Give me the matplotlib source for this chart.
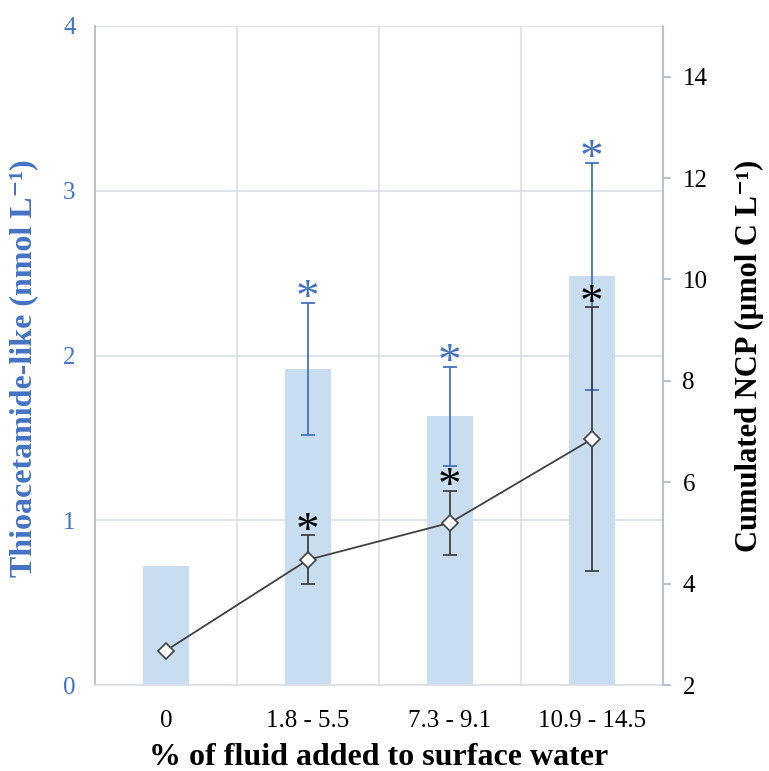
import matplotlib
matplotlib.use("Agg")
import matplotlib.pyplot as plt
import numpy as np

categories = ["0", "1.8 - 5.5", "7.3 - 9.1", "10.9 - 14.5"]
thio_values = [0.72, 1.92, 1.63, 2.48]
thio_err = [0.0, 0.40, 0.30, 0.69]
thio_signif = [False, True, True, True]
ncp_values = [2.68, 4.47, 5.20, 6.85]
ncp_err = [0.0, 0.48, 0.63, 2.60]
ncp_signif = [False, True, True, True]

BLUE = "#4472C4"
BAR = "#C9DDF1"
GRID = "#D9DEE7"
SPINE = "#A9B8CC"
DARK = "#404040"

plt.rcParams["font.family"] = ["Liberation Serif", "DejaVu Serif"]

fig = plt.figure(figsize=(7.69, 7.71), dpi=100)
ax = fig.add_axes([95/769, 1 - 685/771, (663-95)/769, (685-26)/771])
x = np.arange(len(categories))

ax.bar(x, thio_values, width=0.33, color=BAR, zorder=2)
for xi, v, e in zip(x, thio_values, thio_err):
    if e > 0:
        ax.errorbar(xi, v, yerr=e, fmt="none", ecolor=BLUE, elinewidth=1.3,
                    capsize=5, capthick=1.3, zorder=3)
for xi, v, e, s in zip(x, thio_values, thio_err, thio_signif):
    if s:
        ax.annotate("*", xy=(xi, v + e), xytext=(0, -6), textcoords="offset points",
                    ha="center", va="baseline", fontsize=34, color=BLUE, zorder=4)

ax.set_xlim(-0.5, 3.5)
ax.set_ylim(0, 4)
ax.set_yticks([0, 1, 2, 3, 4])
ax.set_xticks(x)
ax.set_xticklabels(categories, fontsize=18)
ax.set_xticks([0.5, 1.5, 2.5], minor=True)
ax.grid(True, axis="y", which="major", color=GRID, linewidth=1.2, zorder=0)
ax.grid(True, axis="x", which="minor", color=GRID, linewidth=1.2, zorder=0)
ax.tick_params(axis="x", which="both", length=0, pad=18)
ax.tick_params(axis="y", length=0, labelcolor=BLUE, labelsize=18, pad=14)
ax.set_axisbelow(True)
for sp in ["top", "right"]:
    ax.spines[sp].set_visible(False)
ax.spines["left"].set_color(SPINE)
ax.spines["bottom"].set_color(GRID)
ax.spines["left"].set_linewidth(1.2)
ax.spines["bottom"].set_linewidth(1.2)

ax.set_xlabel("% of fluid added to surface water", fontsize=23, fontweight="bold", labelpad=8)
ax.set_ylabel("Thioacetamide-like (nmol L\u207b\u00b9)", fontsize=23, fontweight="bold",
              color=BLUE)
ax.yaxis.set_label_coords(-0.1, 0.48)

ax2 = ax.twinx()
ax2.set_ylim(2, 15)
ax2.set_yticks([2, 4, 6, 8, 10, 12, 14])
ax2.plot(x, ncp_values, color=DARK, linewidth=1.3, zorder=3)
for xi, v, e in zip(x, ncp_values, ncp_err):
    if e > 0:
        ax2.errorbar(xi, v, yerr=e, fmt="none", ecolor=DARK, elinewidth=1.3,
                     capsize=5, capthick=1.3, zorder=3)
ax2.plot(x, ncp_values, linestyle="none", marker="D", markersize=8.5,
         markerfacecolor="white", markeredgecolor=DARK, markeredgewidth=1.2, zorder=5)
for xi, v, e, s in zip(x, ncp_values, ncp_err, ncp_signif):
    if s:
        ax2.annotate("*", xy=(xi, v + e), xytext=(0, -6), textcoords="offset points",
                     ha="center", va="baseline", fontsize=34, color="black", zorder=6)

for sp in ["top", "left", "bottom"]:
    ax2.spines[sp].set_visible(False)
ax2.spines["right"].set_color(SPINE)
ax2.spines["right"].set_linewidth(1.2)
ax2.tick_params(axis="y", length=6, width=1.2, color=SPINE, labelsize=18, pad=8)
ax2.set_ylabel("Cumulated NCP (µmol C L\u207b\u00b9)", fontsize=22, fontweight="bold",
               color="black", labelpad=20)

fig.savefig("out.png", dpi=100)
